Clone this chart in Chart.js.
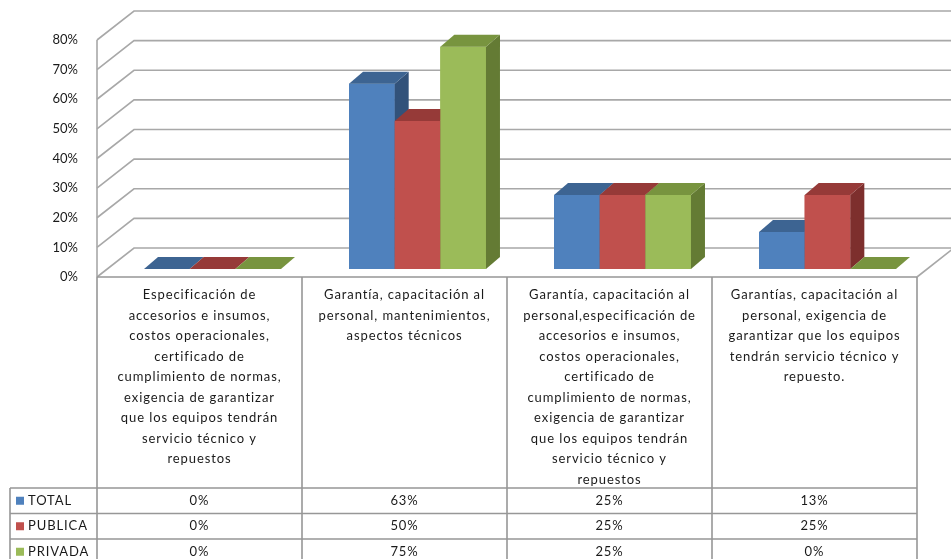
<!DOCTYPE html>
<html>
<head>
<meta charset="utf-8">
<script src="https://cdn.jsdelivr.net/npm/chart.js@4"></script>
<style>
  html, body { margin: 0; padding: 0; background: #fff; }
  #wrap { width: 951px; height: 559px; position: relative; }
</style>
</head>
<body>
<div id="wrap"><canvas id="chart"></canvas></div>
<script>
// categories (already wrapped the way the table shows them)
const categories = [
  ["Especificación de", "accesorios e insumos,", "costos operacionales,", "certificado de",
   "cumplimiento de normas,", "exigencia de garantizar", "que los equipos tendrán",
   "servicio técnico y", "repuestos"],
  ["Garantía, capacitación al", "personal, mantenimientos,", "aspectos técnicos"],
  ["Garantía, capacitación al", "personal,especificación de", "accesorios e insumos,",
   "costos operacionales,", "certificado de", "cumplimiento de normas,",
   "exigencia de garantizar", "que los equipos tendrán", "servicio técnico y", "repuestos"],
  ["Garantías, capacitación al", "personal, exigencia de", "garantizar que los equipos",
   "tendrán servicio técnico y", "repuesto."]
];

const seriesNames = ["TOTAL", "PUBLICA", "PRIVADA"];
const totalValues = [0, 62.5, 25, 12.5];
const publicaValues = [0, 50, 25, 25];
const privadaValues = [0, 75, 25, 0];

const yMax = 80;
const yStep = 10;

// colours: front / top / side
const frontColors = ["#4F81BD", "#C0504D", "#9BBB59"];
const topColors = ["#3D6492", "#963A38", "#78943F"];
const sideColors = ["#32527A", "#7D2F2D", "#647B34"];

// oblique offsets
const barShift = { x: 13, y: -8 };   // front of bars vs front plane
const barDepth = { x: 14, y: -12 };  // bar thickness
const wallDepth = { x: 37, y: -29 }; // front plane -> back wall

const gridColor = "#a8a8a8";
const tableColor = "#979797";
const textColor = "#1a1a1a";
const labelFont = "13px Lato, 'DejaVu Sans', sans-serif";

const threeD = {
  id: "threeD",
  beforeDatasetsDraw(chart) {
    const { ctx, chartArea } = chart;
    const y = chart.scales.y;
    const L = chartArea.left, R = chartArea.right;
    ctx.save();
    ctx.strokeStyle = gridColor;
    ctx.lineWidth = 1.6;
    for (let v = 0; v <= yMax; v += yStep) {
      const py = y.getPixelForValue(v);
      ctx.beginPath();
      ctx.moveTo(L, py);
      ctx.lineTo(L + wallDepth.x, py + wallDepth.y);
      ctx.lineTo(R + wallDepth.x, py + wallDepth.y);
      ctx.stroke();
    }
    const y0 = y.getPixelForValue(0);
    ctx.beginPath();
    ctx.moveTo(L, y.getPixelForValue(yMax));
    ctx.lineTo(L, y0);
    ctx.moveTo(R, y0);
    ctx.lineTo(R + wallDepth.x, y0 + wallDepth.y);
    ctx.stroke();
    ctx.restore();

    ctx.save();
    ctx.translate(barShift.x, barShift.y);
  },
  afterDatasetsDraw(chart) {
    const { ctx } = chart;
    const n = chart.data.labels.length;
    for (let i = 0; i < n; i++) {
      chart.data.datasets.forEach((ds, d) => {
        const el = chart.getDatasetMeta(d).data[i];
        if (!el) return;
        el.draw(ctx);
        const left = el.x - el.width / 2, right = el.x + el.width / 2;
        const top = el.y, base = el.base;
        // side
        ctx.fillStyle = sideColors[d];
        ctx.beginPath();
        ctx.moveTo(right, top);
        ctx.lineTo(right + barDepth.x, top + barDepth.y);
        ctx.lineTo(right + barDepth.x, base + barDepth.y);
        ctx.lineTo(right, base);
        ctx.closePath();
        ctx.fill();
        // top
        ctx.fillStyle = topColors[d];
        ctx.beginPath();
        ctx.moveTo(left, top);
        ctx.lineTo(left + barDepth.x, top + barDepth.y);
        ctx.lineTo(right + barDepth.x, top + barDepth.y);
        ctx.lineTo(right, top);
        ctx.closePath();
        ctx.fill();
      });
    }
    ctx.restore();
  },
  afterDraw(chart) {
    const { ctx, chartArea } = chart;
    const x = chart.scales.x;
    const y0 = chart.scales.y.getPixelForValue(0);
    const L = chartArea.left, R = chartArea.right;
    const n = categories.length;
    const colW = (R - L) / n;
    const tableLeft = 10;
    const headerBottom = 488;
    const rowH = 25.5;
    const bottom = chart.height;

    ctx.save();
    ctx.strokeStyle = tableColor;
    ctx.lineWidth = 1.6;
    ctx.beginPath();
    ctx.moveTo(L, y0);
    ctx.lineTo(R, y0);
    for (let i = 0; i <= n; i++) {
      const cx = L + i * colW;
      ctx.moveTo(cx, y0);
      ctx.lineTo(cx, bottom);
    }
    for (let r = 0; r < 3; r++) {
      const ry = headerBottom + r * rowH;
      ctx.moveTo(tableLeft, ry);
      ctx.lineTo(R, ry);
    }
    ctx.moveTo(tableLeft, headerBottom);
    ctx.lineTo(tableLeft, bottom);
    ctx.stroke();

    // category text
    ctx.fillStyle = textColor;
    ctx.font = labelFont;
    ctx.letterSpacing = "0.9px";
    ctx.textAlign = "center";
    ctx.textBaseline = "middle";
    categories.forEach((lines, i) => {
      const cx = L + (i + 0.5) * colW;
      lines.forEach((t, k) => ctx.fillText(t, cx, 295 + k * 20.5));
    });

    // data rows
    chart.data.datasets.forEach((ds, d) => {
      const cy = headerBottom + d * rowH + rowH / 2;
      ctx.fillStyle = frontColors[d];
      ctx.fillRect(16, cy - 4, 8, 8);
      ctx.fillStyle = textColor;
      ctx.textAlign = "left";
      ctx.fillText(ds.label, 28, cy);
      ctx.textAlign = "center";
      ds.data.forEach((v, i) => {
        ctx.fillText(Math.round(v) + "%", x.getPixelForValue(i), cy);
      });
    });
    ctx.restore();
  }
};

const datasets = [totalValues, publicaValues, privadaValues].map((vals, d) => ({
  label: seriesNames[d],
  data: vals,
  backgroundColor: frontColors[d],
  borderWidth: 0,
  categoryPercentage: 0.668,
  barPercentage: 1,
  clip: false
}));

new Chart(document.getElementById("chart"), {
  type: "bar",
  data: { labels: categories.map(c => c.join(" ")), datasets },
  options: {
    responsive: true,
    maintainAspectRatio: false,
    animation: false,
    layout: { padding: { top: 40, bottom: 282, right: 34, left: 0 } },
    plugins: { legend: { display: false }, tooltip: { enabled: false } },
    scales: {
      x: { display: false },
      y: {
        min: 0,
        max: yMax,
        grid: { display: false, drawTicks: false },
        border: { display: false },
        ticks: {
          stepSize: yStep,
          padding: 19,
          color: textColor,
          font: { family: "Lato", size: 13 },
          callback: v => v + "%"
        },
        afterFit: s => { s.width = 97; }
      }
    }
  },
  plugins: [threeD]
});
</script>
</body>
</html>
